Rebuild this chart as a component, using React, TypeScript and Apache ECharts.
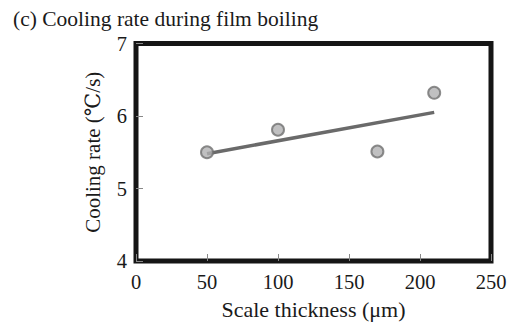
import React, { useEffect, useRef } from "react";
import * as echarts from "echarts";

const titleText = "(c) Cooling rate during film boiling";
const xName = "Scale thickness (μm)";
const yName = "Cooling rate (℃/s)";
const thickness = [50, 100, 170, 210];
const coolingRate = [5.5, 5.81, 5.51, 6.32];
const fitX = [50, 210];
const fitY = [5.48, 6.05];

const FONT = "'Liberation Serif', 'DejaVu Serif', serif";

export default function App() {
  const ref = useRef<HTMLDivElement>(null);
  useEffect(() => {
    if (!ref.current) return;
    const chart = echarts.init(ref.current, undefined, { renderer: "svg" });
    chart.setOption({
      animation: false,
      backgroundColor: "#ffffff",
      title: {
        text: titleText,
        left: 8,
        top: 3,
        textStyle: { fontFamily: FONT, fontWeight: "normal", fontSize: 21.5, color: "#1a1a1a" },
      },
      grid: {
        left: 136,
        right: 33,
        top: 43.5,
        bottom: 64,
        show: true,
        borderWidth: 5,
        borderColor: "#151515",
        backgroundColor: "transparent",
      },
      xAxis: {
        type: "value",
        min: 0,
        max: 250,
        interval: 50,
        name: xName,
        nameLocation: "middle",
        nameGap: 37,
        nameTextStyle: { fontFamily: FONT, fontSize: 22, color: "#1a1a1a" },
        axisLine: { show: false },
        axisTick: { show: true, inside: true, length: 7, lineStyle: { color: "#888", width: 1 } },
        axisLabel: { margin: 10, fontFamily: FONT, fontSize: 20.5, color: "#1a1a1a" },
        splitLine: { show: false },
      },
      yAxis: {
        type: "value",
        min: 4,
        max: 7,
        interval: 1,
        name: yName,
        nameLocation: "middle",
        nameGap: 33,
        nameTextStyle: { fontFamily: FONT, fontSize: 21, color: "#1a1a1a" },
        axisLine: { show: false },
        axisTick: { show: true, inside: true, length: 7, lineStyle: { color: "#888", width: 1 } },
        axisLabel: { margin: 9, fontFamily: FONT, fontSize: 20.5, color: "#1a1a1a" },
        splitLine: { show: false },
      },
      series: [
        {
          type: "line",
          data: fitX.map((x, i) => [x, fitY[i]]),
          showSymbol: false,
          lineStyle: { color: "#6a6a6a", width: 3.5 },
          z: 2,
        },
        {
          type: "scatter",
          data: thickness.map((x, i) => [x, coolingRate[i]]),
          symbol: "circle",
          symbolSize: 12,
          itemStyle: { color: "#b0b0b2", borderColor: "#707070", borderWidth: 2 },
          z: 3,
        },
      ],
    });
    return () => chart.dispose();
  }, []);
  return (
    <div
      ref={ref}
      style={{ position: "fixed", left: 0, top: 0, width: 524, height: 325 }}
    />
  );
}
